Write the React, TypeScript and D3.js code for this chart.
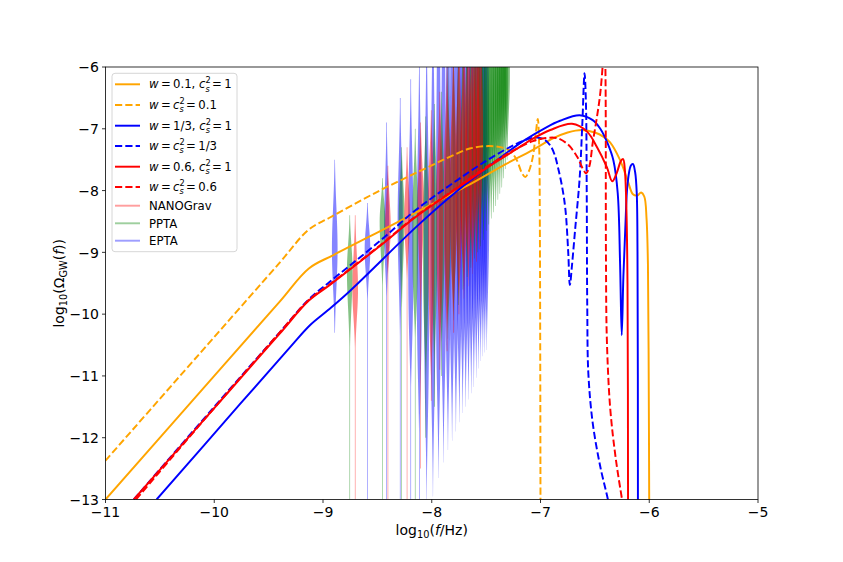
import React from 'react';
import * as d3 from 'd3';

type Pt = [number, number];
// [log10 f, tail bottom, body bottom, widest point, top, half width in dex]
type Violin = [number, number, number, number, number, number];

const X_TICKS = [-11, -10, -9, -8, -7, -6, -5];
const Y_TICKS = [-13, -12, -11, -10, -9, -8, -7, -6];

// model curves, [log10 f, log10 Omega_GW]
const W01_CS1: Pt[] = [
  [-11, -13], [-10, -11.0], [-9.4, -9.8], [-9.13, -9.26], [-8.9, -9.04], [-8.38, -8.57],
  [-8.02, -8.24], [-7.6, -7.85], [-7.37, -7.62], [-7.07, -7.34], [-6.88, -7.15], [-6.75, -7.06],
  [-6.62, -7.02], [-6.5, -7.06], [-6.42, -7.13], [-6.36, -7.22], [-6.27, -7.5], [-6.2, -7.83],
  [-6.15, -8.06], [-6.11, -8.08], [-6.075, -8.03], [-6.045, -8.1], [-6.025, -8.45], [-6.012, -9.2],
  [-6.005, -11], [-6.0, -13.2],
];
const W01_CS01: Pt[] = [
  [-11, -12.37], [-10, -10.37], [-9.4, -9.17], [-9.13, -8.63], [-8.94, -8.44], [-8.5, -8.02],
  [-8.01, -7.6], [-7.83, -7.45], [-7.65, -7.32], [-7.48, -7.28], [-7.36, -7.3], [-7.28, -7.36],
  [-7.22, -7.5], [-7.17, -7.72], [-7.14, -7.78], [-7.11, -7.7], [-7.07, -7.45], [-7.045, -7.1],
  [-7.025, -6.84], [-7.012, -7.3], [-7.006, -8.5], [-7.0, -13.2],
];
const W13_CS1: Pt[] = [
  [-10.53, -13], [-9.76, -11.45], [-9.3, -10.53], [-9.12, -10.18], [-8.95, -9.93], [-8.75, -9.62],
  [-8.15, -8.6], [-7.83, -8.1], [-7.5, -7.64], [-7.16, -7.2], [-6.95, -6.98], [-6.82, -6.87],
  [-6.64, -6.78], [-6.52, -6.86], [-6.45, -7.0], [-6.38, -7.25], [-6.33, -7.51], [-6.29, -8.04],
  [-6.268, -9.2], [-6.253, -10.34], [-6.238, -9.4], [-6.22, -8.6], [-6.2, -7.9], [-6.17, -7.6],
  [-6.15, -7.57], [-6.13, -7.7], [-6.115, -8.04], [-6.108, -9.0], [-6.104, -13.2],
];
const W13_CS13: Pt[] = [
  [-10.74, -13], [-10.0, -11.5], [-9.4, -10.3], [-9.13, -9.76], [-8.94, -9.48], [-8.5, -8.85],
  [-8.15, -8.32], [-7.83, -7.91], [-7.5, -7.52], [-7.23, -7.25], [-7.1, -7.16], [-7.03, -7.14],
  [-6.96, -7.18], [-6.91, -7.27], [-6.87, -7.42], [-6.84, -7.62], [-6.8, -7.95], [-6.77, -8.32],
  [-6.745, -9.0], [-6.73, -9.53], [-6.71, -9.2], [-6.68, -8.6], [-6.64, -7.8], [-6.615, -6.9],
  [-6.595, -6.1], [-6.582, -6.6], [-6.575, -8.0], [-6.57, -9.9], [-6.56, -10.96], [-6.52, -11.76],
  [-6.45, -12.47], [-6.38, -13.0], [-6.36, -13.2],
];
const W06_CS1: Pt[] = [
  [-10.74, -13], [-10.0, -11.52], [-9.4, -10.32], [-9.13, -9.78], [-8.94, -9.53], [-8.5, -8.93],
  [-8.15, -8.43], [-7.83, -8.04], [-7.5, -7.64], [-7.23, -7.34], [-7.07, -7.16], [-6.91, -7.02],
  [-6.71, -6.92], [-6.57, -7.05], [-6.48, -7.3], [-6.39, -7.62], [-6.34, -7.85], [-6.3, -7.72],
  [-6.26, -7.52], [-6.24, -7.49], [-6.225, -7.65], [-6.21, -8.3], [-6.2, -9.5], [-6.195, -13.2],
];
const W06_CS06: Pt[] = [
  [-10.72, -13], [-10.0, -11.52], [-9.4, -10.3], [-9.13, -9.77], [-8.94, -9.52], [-8.5, -8.92],
  [-8.15, -8.42], [-7.83, -8.03], [-7.5, -7.62], [-7.28, -7.38], [-7.07, -7.2], [-6.95, -7.15],
  [-6.85, -7.15], [-6.75, -7.25], [-6.66, -7.46], [-6.61, -7.65], [-6.58, -7.72], [-6.55, -7.6],
  [-6.52, -7.23], [-6.48, -6.8], [-6.45, -6.42], [-6.425, -5.9], [-6.41, -5.5], [-6.402, -6.2],
  [-6.398, -9.1], [-6.39, -10.4], [-6.36, -11.5], [-6.31, -12.31], [-6.25, -13.0], [-6.23, -13.2],
];

// PTA free-spectrum violins
const NANOGRAV: Violin[] = [
  [-8.704, -13, -10.6, -9.6, -8.4, 0.026],
  [-8.403, -13, -9.4, -8.6, -7.6, 0.026],
  [-8.227, -13, -9.5, -8.45, -7.3, 0.026],
  [-8.102, -12.5, -10.0, -8.2, -6.9, 0.028],
  [-8.005, -11.4, -11.3, -8.1, -6.7, 0.028],
  [-7.926, -10.9, -10.85, -8.0, -6.4, 0.03],
  [-7.859, -10.6, -10.55, -7.8, -6.0, 0.03],
  [-7.801, -10.3, -10.25, -7.7, -5.7, 0.03],
  [-7.750, -10.0, -9.95, -7.6, -5.4, 0.03],
  [-7.704, -9.75, -9.75, -7.5, -5.2, 0.03],
  [-7.663, -9.55, -9.55, -7.4, -5.0, 0.03],
  [-7.625, -9.35, -9.35, -7.3, -4.8, 0.03],
  [-7.590, -9.15, -9.15, -7.2, -4.6, 0.03],
  [-7.558, -8.95, -8.95, -7.1, -4.5, 0.03],
];
const PPTA: Violin[] = [
  [-8.754, -13, -10.6, -9.3, -8.4, 0.026],
  [-8.453, -13, -9.6, -8.5, -7.8, 0.026],
  [-8.277, -13, -10.0, -8.4, -7.3, 0.026],
  [-8.152, -13, -10.6, -8.4, -7.0, 0.026],
  [-8.055, -12.0, -11.3, -8.4, -6.8, 0.026],
  [-7.976, -11.5, -11.0, -8.3, -6.6, 0.026],
  [-7.909, -11.0, -10.7, -8.2, -6.4, 0.026],
  [-7.851, -10.4, -10.4, -8.1, -6.0, 0.026],
  [-7.800, -10.1, -10.1, -8.0, -5.7, 0.026],
  [-7.754, -9.85, -9.85, -7.9, -5.4, 0.026],
  [-7.713, -9.6, -9.6, -7.8, -5.2, 0.026],
  [-7.675, -9.4, -9.4, -7.7, -5.0, 0.026],
  [-7.640, -9.25, -9.25, -7.6, -4.8, 0.026],
  [-7.608, -9.1, -9.1, -7.5, -4.5, 0.026],
  [-7.578, -9.0, -9.0, -7.4, -3.5, 0.026],
  [-7.550, -8.9, -8.9, -7.3, -3.5, 0.026],
  [-7.524, -8.8, -8.8, -7.2, -3.5, 0.026],
  [-7.499, -8.65, -8.65, -7.1, -3.5, 0.026],
  [-7.475, -8.55, -8.55, -7.0, -3.5, 0.026],
  [-7.453, -8.45, -8.45, -6.9, -3.5, 0.026],
  [-7.432, -8.35, -8.35, -6.8, -3.5, 0.026],
  [-7.412, -8.25, -8.25, -6.7, -3.5, 0.026],
  [-7.392, -8.15, -8.15, -6.6, -3.5, 0.026],
  [-7.374, -8.05, -8.05, -6.5, -3.5, 0.026],
  [-7.356, -7.95, -7.95, -6.4, -3.5, 0.026],
  [-7.339, -7.8, -7.8, -6.3, -3.5, 0.026],
  [-7.323, -7.65, -7.65, -6.2, -3.5, 0.026],
  [-7.307, -7.5, -7.5, -6.1, -3.5, 0.026],
];
const EPTA: Violin[] = [
  [-8.892, -10.3, -10.3, -8.95, -7.5, 0.026],
  [-8.591, -13, -9.8, -8.95, -8.2, 0.026],
  [-8.415, -13, -9.8, -8.7, -6.9, 0.024],
  [-8.290, -13, -10.5, -8.5, -6.5, 0.024],
  [-8.193, -13, -11.5, -8.5, -6.2, 0.024],
  [-8.114, -13, -12.3, -8.6, -5.8, 0.024],
  [-8.047, -13.1, -13.1, -8.7, -5.4, 0.024],
  [-7.989, -12.95, -12.95, -8.7, -4.5, 0.024],
  [-7.938, -12.65, -12.65, -8.6, -2.5, 0.024],
  [-7.892, -12.4, -12.4, -8.5, -2.5, 0.024],
  [-7.851, -12.2, -12.2, -8.4, -2.5, 0.024],
  [-7.813, -12.05, -12.05, -8.3, -2.5, 0.024],
  [-7.778, -11.9, -11.9, -8.2, -2.5, 0.024],
  [-7.746, -11.75, -11.75, -8.1, -2.5, 0.024],
  [-7.716, -11.6, -11.6, -8.0, -2.5, 0.024],
  [-7.688, -11.5, -11.5, -8.0, -2.5, 0.024],
  [-7.662, -11.38, -11.38, -7.9, -2.5, 0.024],
  [-7.637, -11.28, -11.28, -7.9, -2.5, 0.024],
  [-7.613, -11.18, -11.18, -7.8, -2.5, 0.024],
  [-7.591, -11.03, -11.03, -7.8, -2.5, 0.024],
  [-7.570, -10.88, -10.88, -7.7, -2.5, 0.024],
  [-7.550, -10.76, -10.76, -7.7, -2.5, 0.024],
  [-7.530, -10.68, -10.68, -7.6, -2.5, 0.024],
  [-7.512, -10.62, -10.62, -7.6, -2.5, 0.024],
  [-7.494, -10.58, -10.58, -7.5, -2.5, 0.024],
];

const TAIL = 0.003;

interface Slice { f: number; v: number; h: number }

function violinProfile(vl: Violin): Slice[] {
  const [f, tailLo, lo, peak, hi, w] = vl;
  // long lower bodies are column-like, short ones spindle-like
  const col = peak - lo > 2;
  const p = col ? 4 : 2;
  const sL = (peak - lo) / (col ? 1.6 : 2.2);
  const sU = (hi - peak) / 2.2;
  const hasTail = tailLo < lo;
  const pts: Slice[] = [];
  if (hasTail) pts.push({ f, v: tailLo, h: TAIL });
  const n = 120;
  for (let i = 0; i <= n; i++) {
    const v = lo + ((hi - lo) * i) / n;
    const h = v >= peak
      ? w * Math.exp(-0.5 * ((v - peak) / sU) ** 2)
      : w * Math.exp(-0.5 * Math.abs((peak - v) / sL) ** p);
    pts.push({ f, v, h: Math.max(h, hasTail ? TAIL : 0) });
  }
  return pts;
}

const DASH = '7.2 3.1';

const mathLabel = (wVal: string, csVal: string, same: boolean) => {
  const cs = (
    <>
      <tspan fontStyle="italic">c</tspan>
      <tspan fontSize={8.2} dy={-5}>2</tspan>
      <tspan fontSize={8.2} fontStyle="italic" dx={-5.2} dy={8.2}>s</tspan>
    </>
  );
  if (same) {
    return (
      <>
        <tspan fontStyle="italic">w</tspan>
        <tspan>{'\u2009=\u2009'}</tspan>
        {cs}
        <tspan dy={-3.2}>{'\u2009=\u2009' + wVal}</tspan>
      </>
    );
  }
  return (
    <>
      <tspan fontStyle="italic">w</tspan>
      <tspan>{'\u2009=\u2009' + wVal + ', '}</tspan>
      {cs}
      <tspan dy={-3.2}>{'\u2009=\u2009' + csVal}</tspan>
    </>
  );
};

const CURVES = [
  { data: W01_CS1, color: 'orange', dash: null, label: mathLabel('0.1', '1', false) },
  { data: W01_CS01, color: 'orange', dash: DASH, label: mathLabel('0.1', '', true) },
  { data: W13_CS1, color: 'blue', dash: null, label: mathLabel('1/3', '1', false) },
  { data: W13_CS13, color: 'blue', dash: DASH, label: mathLabel('1/3', '', true) },
  { data: W06_CS1, color: 'red', dash: null, label: mathLabel('0.6', '1', false) },
  { data: W06_CS06, color: 'red', dash: DASH, label: mathLabel('0.6', '', true) },
];

const PTAS = [
  { data: NANOGRAV, color: 'red', label: 'NANOGrav' },
  { data: PPTA, color: 'green', label: 'PPTA' },
  { data: EPTA, color: 'blue', label: 'EPTA' },
];
// EPTA underneath, NANOGrav on top
const DRAW_ORDER = [2, 1, 0];

const ALPHA = 0.48;

export default function App() {
  const width = 843;
  const height = 562;
  const margin = { top: 67, right: 85, bottom: 62.5, left: 105.5 };
  const x = d3.scaleLinear().domain([-11, -5]).range([margin.left, width - margin.right]);
  const y = d3.scaleLinear().domain([-13, -6]).range([height - margin.bottom, margin.top]);
  const [x0, x1] = x.range();
  const [y0, y1] = y.range();

  const line = d3.line<Pt>()
    .x(d => x(d[0]))
    .y(d => y(d[1]))
    .curve(d3.curveCatmullRom.alpha(0.5));

  const area = d3.area<Slice>()
    .y(d => y(d.v))
    .x0(d => x(d.f - d.h))
    .x1(d => x(d.f + d.h));

  const legendRows = [84.3, 105, 125.7, 146, 166.7, 187, 205.7, 223.3, 240.7];

  return (
    <svg
      width={width}
      height={height}
      style={{ position: 'absolute', left: 0, top: 0, background: 'white' }}
      fontFamily="DejaVu Sans"
    >
      <defs>
        <clipPath id="plot-clip">
          <rect x={x0} y={y1} width={x1 - x0} height={y0 - y1} />
        </clipPath>
      </defs>

      <g clipPath="url(#plot-clip)">
        {DRAW_ORDER.map(k => PTAS[k]).map(p => (
          <g key={p.label} fill={p.color} fillOpacity={ALPHA}>
            {p.data.map((v, i) => (
              <path key={i} d={area(violinProfile(v)) || ''} />
            ))}
          </g>
        ))}
        {CURVES.map((c, i) => (
          <path
            key={i}
            d={line(c.data) || ''}
            fill="none"
            stroke={c.color}
            strokeWidth={1.95}
            strokeDasharray={c.dash || undefined}
          />
        ))}
      </g>

      <rect x={x0} y={y1} width={x1 - x0} height={y0 - y1} fill="none" stroke="black" strokeWidth={0.8} />

      {X_TICKS.map(t => (
        <g key={t}>
          <line x1={x(t)} x2={x(t)} y1={y0} y2={y0 + 3.5} stroke="black" strokeWidth={0.8} />
          <text x={x(t)} y={517} fontSize={14} textAnchor="middle">
            {t < 0 ? '\u2212' + Math.abs(t) : t}
          </text>
        </g>
      ))}
      {Y_TICKS.map(t => (
        <g key={t}>
          <line x1={x0 - 3.5} x2={x0} y1={y(t)} y2={y(t)} stroke="black" strokeWidth={0.8} />
          <text x={99} y={y(t) + 5.2} fontSize={14} textAnchor="end">
            {t < 0 ? '\u2212' + Math.abs(t) : t}
          </text>
        </g>
      ))}

      <text x={(x0 + x1) / 2} y={535} fontSize={14} textAnchor="middle">
        log<tspan fontSize={9.8} dy={3}>10</tspan>
        <tspan dy={-3}>(</tspan>
        <tspan fontStyle="italic">f</tspan>
        <tspan>/Hz)</tspan>
      </text>
      <text transform={`translate(64,${(y0 + y1) / 2}) rotate(-90)`} fontSize={14} textAnchor="middle">
        log<tspan fontSize={9.8} dy={3}>10</tspan>
        <tspan dy={-3}>({'\u03A9'}</tspan>
        <tspan fontSize={9.8} dy={3}>GW</tspan>
        <tspan dy={-3}>(</tspan>
        <tspan fontStyle="italic">f</tspan>
        <tspan>))</tspan>
      </text>

      <g>
        <rect x={112} y={73.3} width={125} height={178.4} rx={3} fill="white" fillOpacity={0.8} stroke="#cccccc" strokeWidth={0.8} />
        {CURVES.map((c, i) => (
          <g key={i}>
            <line
              x1={115} x2={140} y1={legendRows[i]} y2={legendRows[i]}
              stroke={c.color} strokeWidth={1.95}
              strokeDasharray={c.dash || undefined}
            />
            <text x={149} y={legendRows[i] + 4} fontSize={11.7}>{c.label}</text>
          </g>
        ))}
        {PTAS.map((p, i) => (
          <g key={p.label}>
            <line
              x1={115} x2={140} y1={legendRows[6 + i]} y2={legendRows[6 + i]}
              stroke={p.color} strokeOpacity={0.38} strokeWidth={1.95}
            />
            <text x={149} y={legendRows[6 + i] + 4.2} fontSize={11.7}>{p.label}</text>
          </g>
        ))}
      </g>
    </svg>
  );
}
